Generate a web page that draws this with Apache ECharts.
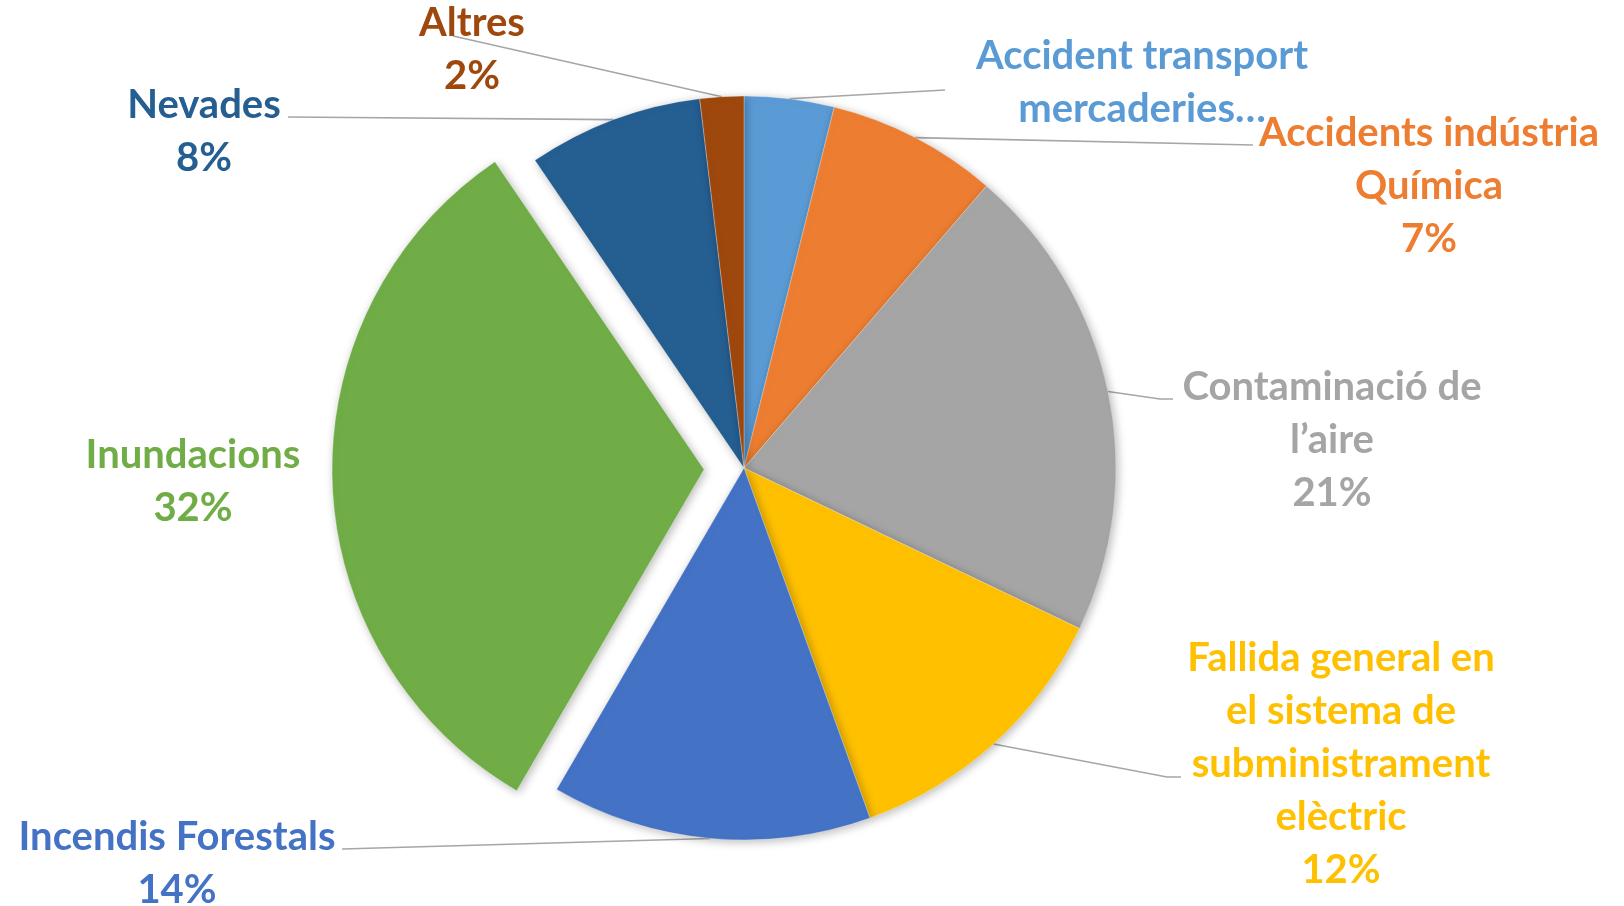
<!DOCTYPE html>
<html>
<head>
<meta charset="utf-8">
<script src="https://cdn.jsdelivr.net/npm/echarts@6/dist/echarts.min.js"></script>
<style>
  html, body { margin: 0; padding: 0; background: #fff; }
  #chart { width: 1624px; height: 906px; }
</style>
</head>
<body>
<div id="chart"></div>
<script>
// dades del gràfic
var categories = [
  'Accident transport\nmercaderies…',
  'Accidents indústria\nQuímica',
  'Contaminació de\nl’aire',
  'Fallida general en\nel sistema de\nsubministrament\nelèctric',
  'Incendis Forestals',
  'Inundacions',
  'Nevades',
  'Altres'
]
var values = [3.9, 7.4, 20.8, 12.4, 13.9, 32.1, 7.6, 1.9]
var showPercent = [false, true, true, true, true, true, true, true]
var colors = ['#5B9BD5', '#ED7D31', '#A5A5A5', '#FFC000', '#4472C4', '#70AD47', '#255E91', '#9E480E']
var explodedIndex = 5

// disposició de les etiquetes (centre del text) i final de la línia guia
var cx = 744, cy = 468, R = 372, explodeOffset = 40
var labelPos = [
  [1142, 83], [1429, 186], [1332, 440], [1341, 764],
  [177, 864], [193, 482], [204, 132], [472, 50]
]
var lineEnds = [
  [[945, 90], [945, 90]],
  [[1253, 145], [1253, 145]],
  [[1160, 399], [1173, 399]],
  [[1167, 777], [1181, 777]],
  [[342, 849], [342, 849]],
  null,
  [[288, 117], [288, 117]],
  [[453, 36], [453, 36]]
]

var total = values.reduce(function (a, b) { return a + b }, 0)
function midAngle(i) {
  var before = 0
  for (var k = 0; k < i; k++) before += values[k]
  return (before + values[i] / 2) / total * Math.PI * 2
}

var chart = echarts.init(document.getElementById('chart'))

var sliceStyle = {
  borderColor: 'rgba(255,255,255,0.6)',
  borderWidth: 0.5,
  shadowBlur: 10,
  shadowColor: 'rgba(0,0,0,0.28)',
  shadowOffsetX: 2,
  shadowOffsetY: 2
}
var hiddenItem = {
  itemStyle: { color: 'transparent', borderWidth: 0, shadowBlur: 0 },
  label: { show: false },
  labelLine: { show: false },
  emphasis: { disabled: true }
}

function buildData(showExploded) {
  return categories.map(function (name, i) {
    var item = { name: name, value: values[i] }
    var visible = showExploded ? i === explodedIndex : i !== explodedIndex
    if (!visible) return Object.assign(item, hiddenItem)
    item.itemStyle = { color: colors[i] }
    item.label = { color: colors[i] }
    item.labelLine = { show: !!lineEnds[i] }
    return item
  })
}

var labelOpt = {
  show: true,
  position: 'outside',
  fontFamily: 'Lato',
  fontWeight: 'bold',
  fontSize: 40,
  lineHeight: 53,
  align: 'center',
  formatter: function (p) {
    return showPercent[p.dataIndex] ? p.name + '\n' + Math.round(p.percent) + '%' : p.name
  }
}

function layoutLabel(params) {
  var i = params.dataIndex
  var res = { x: labelPos[i][0], y: labelPos[i][1], align: 'center', verticalAlign: 'middle' }
  if (lineEnds[i]) {
    var a = midAngle(i)
    var p0 = [cx + R * Math.sin(a), cy - R * Math.cos(a)]
    res.labelLinePoints = [p0, lineEnds[i][0], lineEnds[i][1]]
  }
  return res
}

// el sector d'Inundacions es desplaça cap enfora
var ea = midAngle(explodedIndex)
var exCenter = [cx + explodeOffset * Math.sin(ea), cy - explodeOffset * Math.cos(ea)]

var baseSeries = {
  type: 'pie',
  radius: R,
  startAngle: 90,
  clockwise: true,
  avoidLabelOverlap: false,
  itemStyle: sliceStyle,
  label: labelOpt,
  labelLine: { show: true, lineStyle: { color: '#A6A6A6', width: 1.6 } },
  labelLayout: layoutLabel
}

var option = {
  backgroundColor: '#fff',
  animation: false,
  series: [
    Object.assign({}, baseSeries, { center: [cx, cy], data: buildData(false) }),
    Object.assign({}, baseSeries, { center: exCenter, data: buildData(true) })
  ]
}

chart.setOption(option)
window.addEventListener('resize', function () { chart.resize() })
</script>
</body>
</html>
